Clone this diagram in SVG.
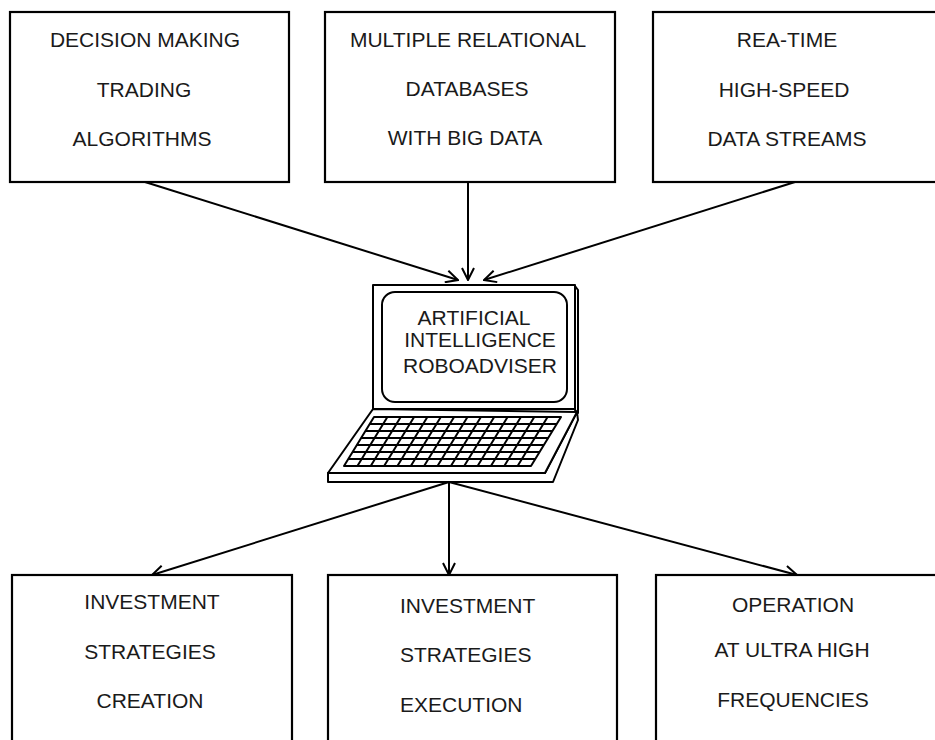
<svg xmlns="http://www.w3.org/2000/svg" width="935" height="740" viewBox="0 0 935 740">
  <style>
    .box { fill: #fff; stroke: #000; stroke-width: 2.2; }
    .lbl { font-family: "Liberation Sans", Arial, sans-serif; font-size: 21px; fill: #1a1a1a; text-anchor: middle; }
    .lbl-l { text-anchor: start; }
    .edge { fill: none; stroke: #000; stroke-width: 2; marker-end: url(#arr); }
    .lap { fill: #fff; stroke: #000; stroke-width: 2; stroke-linejoin: round; }
    .keys { fill: none; stroke: #000; stroke-width: 2; }
  </style>
  <defs>
    <marker id="arr" viewBox="0 0 14 14" refX="13" refY="7" markerWidth="14" markerHeight="14" markerUnits="userSpaceOnUse" orient="auto">
      <path d="M1,1 L13,7 L1,13" fill="none" stroke="#000" stroke-width="2"/>
    </marker>
  </defs>
  <rect width="935" height="740" fill="#fff"/>

  <!-- connectors -->
  <g id="connectors">
    <path class="edge" d="M145,182 L458,280"/>
    <path class="edge" d="M468,182 L468,280"/>
    <path class="edge" d="M795,182 L484,280"/>
    <path class="edge" d="M449,482 L152,575"/>
    <path class="edge" d="M449,482 L449,575"/>
    <path class="edge" d="M449,482 L797,575"/>
  </g>

  <!-- input sources -->
  <g id="node-algorithms">
    <rect class="box" x="10" y="12" width="279" height="170"/>
    <text class="lbl" x="145" y="47">DECISION MAKING</text>
    <text class="lbl" x="144" y="97">TRADING</text>
    <text class="lbl" x="142" y="146">ALGORITHMS</text>
  </g>
  <g id="node-databases">
    <rect class="box" x="325" y="12" width="290" height="170"/>
    <text class="lbl" x="468" y="47">MULTIPLE RELATIONAL</text>
    <text class="lbl" x="467" y="96">DATABASES</text>
    <text class="lbl" x="465" y="145">WITH BIG DATA</text>
  </g>
  <g id="node-streams">
    <rect class="box" x="653" y="12" width="300" height="170"/>
    <text class="lbl" x="787" y="47">REA-TIME</text>
    <text class="lbl" x="784" y="97">HIGH-SPEED</text>
    <text class="lbl" x="787" y="146">DATA STREAMS</text>
  </g>

  <!-- central laptop -->
  <g id="node-roboadviser">
    <!-- lid -->
    <path class="lap" d="M575,286 L578,290 L578,413 L575,410 Z"/>
    <rect class="lap" x="373" y="285" width="202" height="124"/>
    <rect class="lap" x="382" y="292" width="185" height="110" rx="13"/>
    <!-- base -->
    <path class="lap" d="M328,473 L545,473 L577,412 L578,420 L553,482 L328,482 Z"/>
    <path class="lap" d="M373,409 L577,412 L545,473 L328,473 Z"/>
    <!-- keyboard grid -->
    <path class="lap" d="M374,417 L561,417 L531,466 L344,466 Z"/>
    <path class="keys" d="M369.7,424 L556.7,424 M365.4,431 L552.4,431 M361.1,438 L548.1,438 M356.9,445 L543.9,445 M352.6,452 L539.6,452 M348.3,459 L535.3,459
      M387.4,417 L357.4,466 M400.7,417 L370.7,466 M414.1,417 L384.1,466 M427.4,417 L397.4,466 M440.8,417 L410.8,466 M454.1,417 L424.1,466 M467.5,417 L437.5,466 M480.9,417 L450.9,466 M494.2,417 L464.2,466 M507.6,417 L477.6,466 M520.9,417 L490.9,466 M534.3,417 L504.3,466 M547.6,417 L517.6,466"/>
    <text class="lbl" x="474" y="325">ARTIFICIAL</text>
    <text class="lbl" x="480" y="347">INTELLIGENCE</text>
    <text class="lbl" x="480" y="373">ROBOADVISER</text>
  </g>

  <!-- outcomes -->
  <g id="node-creation">
    <rect class="box" x="12" y="575" width="280" height="190"/>
    <text class="lbl" x="152" y="609">INVESTMENT</text>
    <text class="lbl" x="150" y="659">STRATEGIES</text>
    <text class="lbl" x="150" y="708">CREATION</text>
  </g>
  <g id="node-execution">
    <rect class="box" x="328" y="575" width="289" height="190"/>
    <text class="lbl lbl-l" x="400" y="613">INVESTMENT</text>
    <text class="lbl lbl-l" x="400" y="662">STRATEGIES</text>
    <text class="lbl lbl-l" x="400" y="712">EXECUTION</text>
  </g>
  <g id="node-frequencies">
    <rect class="box" x="656" y="575" width="300" height="190"/>
    <text class="lbl" x="793" y="612">OPERATION</text>
    <text class="lbl" x="792" y="657">AT ULTRA HIGH</text>
    <text class="lbl" x="793" y="707">FREQUENCIES</text>
  </g>
</svg>
